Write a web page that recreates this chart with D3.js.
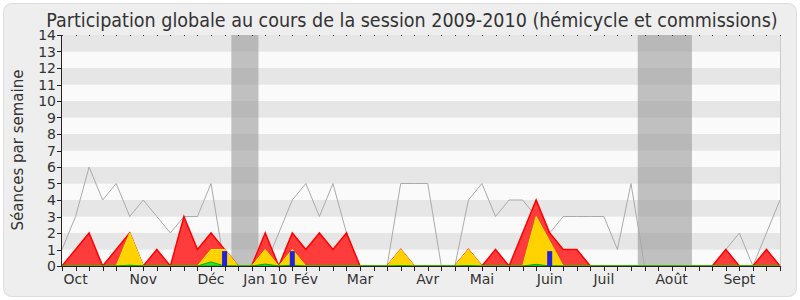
<!DOCTYPE html>
<meta charset="utf-8">
<script src="https://d3js.org/d3.v7.min.js"></script>
<style>
  body { margin: 0; background: #fff; }
  text { font-family: "DejaVu Sans", sans-serif; fill: #333; }
</style>
<div id="graph"></div>
<script>

// weekly values, one entry per week of the session (Oct 2009 -> Sept 2010)
var presence   = [0,1,2,0,1,2,0,1,0,3,1,2,1,0,0,2,0,2,1,2,1,2,0,0,0,1,0,0,0,0,1,0,1,0,2,4,2,1,1,0,0,0,0,0,0,0,0,0,0,1,0,0,1,0];
var hemicycle  = [0,0,0,0,0,2,0,0,0,0,0,1,1,0,0,1,0,1,0,0,0,0,0,0,0,1,0,0,0,0,1,0,0,0,0,3,1.5,0,0,0,0,0,0,0,0,0,0,0,0,0,0,0,0,0];
var interv     = [0,0,0,0,0,0.05,0,0,0,0,0,0.25,0,0,0,0.12,0,0.05,0,0,0,0,0,0,0,0.03,0,0,0,0,0.03,0,0,0,0,0.1,0,0,0,0,0,0,0,0,0,0,0,0,0,0,0,0,0,0];
var mediane    = [1,3,6,4,5,3,4,3,2,3,3,5,0,0,0,0,2,4,5,3,5,2,0,0,0,5,5,5,0,0,4,5,3,4,4,3,2,3,3,3,3,1,5,0,0,0,0,0,0,1,2,0,2,4];
var questions  = [{week: 12, value: 0.9}, {week: 17, value: 0.9}, {week: 36, value: 0.9}];
var vacances   = [[12.5, 14.5], [42.5, 46.5]];
var months     = ["Oct", "Nov", "Déc", "Jan 10", "Fév", "Mar", "Avr", "Mai", "Juin", "Juil", "Août", "Sept"];
var monthWeeks = [1, 6, 11, 15, 18, 22, 27, 31, 36, 40, 45, 50];

var W = 800, H = 300;
var pLeft = 62, pRight = 780, pTop = 35, pBottom = 266;

var svg = d3.select("#graph").append("svg")
    .attr("width", W)
    .attr("height", H);

// outer rounded frame
svg.append("rect")
    .attr("x", 3.5).attr("y", 3.5)
    .attr("width", W - 7).attr("height", H - 7)
    .attr("rx", 8)
    .style("fill", "#eeeeee")
    .style("stroke", "#dddddd");

var x = d3.scaleLinear().domain([0, presence.length - 1]).range([pLeft, pRight]);
var y = d3.scaleLinear().domain([0, 14]).range([pBottom, pTop]);

// striped background, one band per unit
var bands = d3.range(0, 14);
svg.selectAll(".stripe")
    .data(bands)
    .enter()
    .append("rect")
      .attr("x", pLeft)
      .attr("width", pRight - pLeft)
      .attr("y", function(d) { return y(d + 1); })
      .attr("height", function(d) { return y(d) - y(d + 1); })
      .style("fill", function(d) { return d % 2 ? "#e6e6e6" : "#fafafa"; });

// holidays
svg.selectAll(".vac")
    .data(vacances)
    .enter()
    .append("rect")
      .attr("x", function(d) { return x(d[0]); })
      .attr("width", function(d) { return x(d[1]) - x(d[0]); })
      .attr("y", pTop)
      .attr("height", pBottom - pTop)
      .style("fill", "#999")
      .style("opacity", 0.6);

// median line
var line = d3.line()
    .x(function(d, i) { return x(i); })
    .y(function(d) { return y(d); });

svg.append("path")
    .datum(mediane)
    .attr("d", line)
    .style("fill", "none")
    .style("stroke", "#aaaaaa")
    .style("stroke-width", 1);

var area = d3.area()
    .x(function(d, i) { return x(i); })
    .y0(pBottom)
    .y1(function(d) { return y(d); });

svg.append("path").datum(presence).attr("d", area)
    .style("fill", "#ff3c3c").style("stroke", "#ff0000").style("stroke-width", 1.5);

svg.append("path").datum(hemicycle).attr("d", area)
    .style("fill", "#ffd200").style("stroke", "#ffee00").style("stroke-width", 1);

svg.append("path").datum(interv).attr("d", area)
    .style("fill", "#33dd33").style("stroke", "#00b000").style("stroke-width", 1);

svg.selectAll(".q")
    .data(questions)
    .enter()
    .append("rect")
      .attr("x", function(d) { return x(d.week) - 2.5; })
      .attr("width", 5)
      .attr("y", function(d) { return y(d.value); })
      .attr("height", function(d) { return pBottom - y(d.value); })
      .style("fill", "#2222dd");

// right frame line
svg.append("line").attr("x1", pRight + 0.5).attr("x2", pRight + 0.5).attr("y1", pTop).attr("y2", pBottom)
    .style("stroke", "#cccccc");

// top dotted ticks
svg.selectAll(".topdot")
    .data(d3.range(0, presence.length))
    .enter()
    .append("rect")
      .attr("x", function(d) { return Math.round(x(d)); })
      .attr("y", pTop)
      .attr("width", 1).attr("height", 1)
      .style("fill", "#333");

// x axis
svg.append("line").attr("x1", pLeft).attr("x2", pRight).attr("y1", pBottom + 0.5).attr("y2", pBottom + 0.5)
    .style("stroke", "#222");
svg.selectAll(".xt")
    .data(d3.range(0, presence.length))
    .enter()
    .append("line")
      .attr("x1", function(d) { return Math.round(x(d)) + 0.5; })
      .attr("x2", function(d) { return Math.round(x(d)) + 0.5; })
      .attr("y1", pBottom)
      .attr("y2", pBottom + 5)
      .style("stroke", "#222");

svg.selectAll(".month")
    .data(months)
    .enter()
    .append("text")
      .text(function(d) { return d; })
      .attr("x", function(d, i) { return x(monthWeeks[i]); })
      .attr("y", 284)
      .style("text-anchor", "middle")
      .style("font-size", "14px");

// y axis
svg.append("line").attr("x1", pLeft - 0.5).attr("x2", pLeft - 0.5).attr("y1", pTop).attr("y2", pBottom + 1)
    .style("stroke", "#222");
svg.selectAll(".yt")
    .data(d3.range(0, 15))
    .enter()
    .append("line")
      .attr("x1", pLeft - 5)
      .attr("x2", pLeft)
      .attr("y1", function(d) { return Math.round(y(d)) + 0.5; })
      .attr("y2", function(d) { return Math.round(y(d)) + 0.5; })
      .style("stroke", "#222");
svg.selectAll(".ylab")
    .data(d3.range(0, 15))
    .enter()
    .append("text")
      .text(function(d) { return d; })
      .attr("x", 56)
      .attr("y", function(d) { return y(d) + 5; })
      .style("text-anchor", "end")
      .style("font-size", "14px");

svg.append("text")
    .text("Séances par semaine")
    .attr("transform", "translate(23,150) rotate(-90)")
    .style("text-anchor", "middle")
    .style("font-size", "15px");

svg.append("text")
    .text("Participation globale au cours de la session 2009-2010 (hémicycle et commissions)")
    .attr("x", 412)
    .attr("y", 27)
    .style("text-anchor", "middle")
    .style("font-family", "'DejaVu Sans Condensed', 'DejaVu Sans', sans-serif")
    .style("font-stretch", "condensed")
    .style("font-size", "19.5px");

</script>
